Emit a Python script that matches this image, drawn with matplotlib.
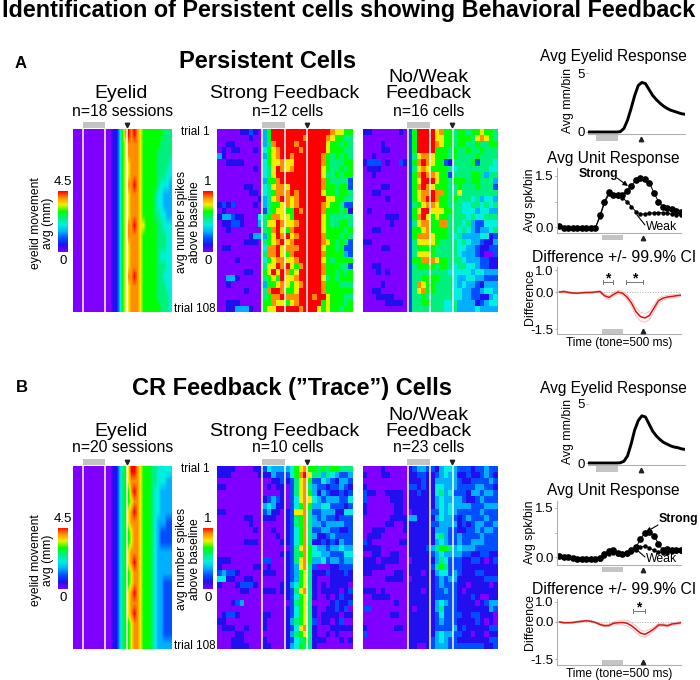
import numpy as np
import matplotlib
matplotlib.use('Agg')
import matplotlib.pyplot as plt
from matplotlib.colors import LinearSegmentedColormap
from matplotlib.lines import Line2D
from matplotlib.patches import Rectangle, FancyArrowPatch

plt.rcParams['font.family'] = ['Liberation Sans', 'DejaVu Sans']

# heatmap levels, 0 = purple ... 9 = red
eyelid_a = [
    "00000 00000 00011 36898 98766 66666 555",
    "00000 00000 00011 36788 88766 66665 555",
    "00000 00000 00011 36788 88766 66655 555",
    "00000 00000 00011 36778 88766 66655 554",
    "00000 00000 00011 36778 88766 66655 544",
    "00000 00000 00011 36788 98766 66654 443",
    "00000 00000 00011 36778 88766 66544 333",
    "00000 00000 00011 36778 88766 66544 333",
    "00000 00000 00011 36778 88766 66554 433",
    "00000 00000 00011 36788 98776 66655 444",
    "00000 00000 00011 36788 88766 66655 544",
    "00000 00000 00011 36778 88766 66655 544",
    "00000 00000 00011 36778 88766 66654 444",
    "00000 00000 00011 36778 88766 66655 544",
    "00000 00000 00011 36788 98766 66655 444",
    "00000 00000 00011 36778 88766 66655 544",
    "00000 00000 00011 36778 88766 66655 554",
    "00000 00000 00011 36778 88766 66665 554",
]
eyelid_b = [
    "00000 00000 00011 35679 98766 65544 444",
    "00000 00000 00011 35678 88766 65544 433",
    "00000 00000 00011 35668 98766 65443 333",
    "00000 00000 00011 35667 88766 65443 333",
    "00000 00000 00011 35678 98766 65443 333",
    "00000 00000 00011 35678 88766 65433 322",
    "00000 00000 00011 35667 88766 65432 222",
    "00000 00000 00011 35667 88766 65432 222",
    "00000 00000 00011 35678 88766 65433 333",
    "00000 00000 00011 35678 98766 65433 333",
    "00000 00000 00011 35667 88766 65433 333",
    "00000 00000 00011 35667 88766 65433 222",
    "00000 00000 00011 35678 98766 65433 222",
    "00000 00000 00011 35678 88766 65433 222",
    "00000 00000 00011 35678 98766 65433 222",
    "00000 00000 00011 35667 88766 65433 222",
    "00000 00000 00011 35667 88766 65433 222",
    "00000 00000 00011 35667 88766 65433 333",
]
strong_a = [
    "0000011210 3699999999 9999987766",
    "0000000100 3699999998 9999876655",
    "0011000000 3589999899 9999766565",
    "0101100010 4678999989 9999766655",
    "3100000000 3678998999 9998656565",
    "0011110000 4677877999 9998655566",
    "0000000010 4579878999 9997655656",
    "0000000000 4579999999 9997556566",
    "0000000000 3668999999 9998655552",
    "0000001100 4578879999 9998665662",
    "0000000110 4568889899 9997665665",
    "0000000001 3578987899 9999776655",
    "1212000010 3566787899 9998766522",
    "0100000000 2567766989 9998666561",
    "1332110004 5688776999 9997655555",
    "0112210003 5779877899 9997655665",
    "0010000000 5689768999 9997666656",
    "0000000133 3679897899 9998666565",
    "0000001110 5678978999 9998765652",
    "0110000000 4889788899 9997665622",
    "0000000000 5889768999 9998666632",
    "0000100000 4678877899 9997656666",
    "0000000000 5779897689 9998666552",
    "0000001100 6797986799 9998665656",
    "0033100000 5676977899 9997565666",
    "0010000000 3667876789 9998666555",
    "0000001000 5899866799 9998666666",
    "0000000000 5688988899 9899766655",
    "0011100000 6687767899 9996766656",
    "0011333100 6779999989 9976766566",
]
weak_a = [
    "1100000010 2699997866 5665667665",
    "0000000000 2699997766 5666578765",
    "0000100000 2699998766 5665565566",
    "0000110000 2699996665 6556556555",
    "0010000000 2578876665 6555565555",
    "1222010021 2689876621 5555625554",
    "0111000000 2578766665 4555555544",
    "0010000000 2689887662 5555665355",
    "0000000000 2679997665 6665665553",
    "0000110000 2689876665 5655565552",
    "0011000000 2678898865 5755555555",
    "0000010000 2678998665 6555453443",
    "0000000000 2567887665 5544554545",
    "0100000000 2679977766 5544434433",
    "0000011100 2689767665 5554544555",
    "0000001000 2578866885 5545322444",
    "0011000000 2667866665 5454323345",
    "0000000000 2688876665 4533334412",
    "1100000000 2577776555 5454332113",
    "0000110000 2566665555 5443321122",
    "0000000000 2577765555 5433321002",
    "0000000000 2668887665 5543332211",
    "0011000000 2566665665 4554432211",
    "0001010000 2555555554 4444344333",
    "0000000000 2556666555 4334433222",
    "0000100000 2587665555 4343321333",
    "0011000000 2578665555 4433223443",
    "0001111000 2556555555 4433221134",
    "0000011110 2556655544 5333312344",
    "0000000000 2555555544 5333343333",
]
strong_b = [
    "1111000011 2433334678 6656566555",
    "1110000001 1132224689 7553543223",
    "0000000000 0011212578 6224321332",
    "1100000000 0101102578 5322122321",
    "0000000000 0000102578 6313211212",
    "0000000000 1232102478 7432333224",
    "0000000000 3431102468 6334422212",
    "1100000000 2311012778 5223331144",
    "0000001100 1110012568 5323221222",
    "0000000100 0000012568 5332333322",
    "0000000010 0010012468 5223322112",
    "0000000000 0001012468 5311232222",
    "0000001110 0000112468 5112121322",
    "0000000000 0000002578 6433233433",
    "0000000000 0000112568 6443322244",
    "1110000000 2200012578 6334233233",
    "1000000011 0100012378 5200011222",
    "2322100000 1110012367 5111211121",
    "4411001100 0000012367 5100011111",
    "1000122210 0000113467 5101011110",
    "0000011000 1110112578 5101111012",
    "0000000000 0000012467 5100101211",
    "0001230000 0000002567 5000012112",
    "0000000000 0000012467 5100112120",
    "0122100000 1100012467 5101111011",
    "1100000000 1000013567 5201101200",
    "0111001000 1000012478 5100011111",
    "0000110000 0000013567 5100101000",
    "0001110000 1000012456 5111000101",
    "0001111000 1100013465 5100000000",
]
weak_b = [
    "0000100000 1233221344 3222122322",
    "1000110000 1122112343 3112112321",
    "0000000000 1112113333 3211222232",
    "1000000000 2212114433 3222233221",
    "2110011110 1121114534 2221332332",
    "2000001110 1111113433 3321123222",
    "1000000110 1111113434 3333222333",
    "1000000110 0111122434 3222223222",
    "0000001111 3311113433 2123222322",
    "0000011001 1111122333 3121233223",
    "0011100001 1111113332 2112232332",
    "0111000000 1111114532 2322223222",
    "2100000011 1111113432 2322333222",
    "1111000000 1111235665 3433322222",
    "0011001100 1111123433 3322112211",
    "1110111100 0111113542 2211221012",
    "1111100000 1111125652 2211111111",
    "1100000110 1110113442 3211122111",
    "0000011110 0111112323 3111111222",
    "0000000000 1111112322 2110111101",
    "1110100000 1110112232 2101111111",
    "0011110000 1111112222 2111210011",
    "0000000100 1111113432 2111101233",
    "2200000000 1011113522 2111111132",
    "0000001100 1111112422 2211221110",
    "0000000000 1111112322 2111121010",
    "1000000110 1111112222 3121111122",
    "2000000000 1111113433 2211011011",
    "0000000000 1111123432 2111111122",
    "0000000000 1100123332 2222222112",
]

# right hand line panels
lid_a = [0, 0, 0, 0, 0, 0, 0, 0, 0, .03, .3, 1.0, 2.0, 3.1, 3.95, 4.2, 4.1, 3.6, 3.1, 2.75,
         2.45, 2.2, 2.0, 1.85, 1.75, 1.65, 1.55, 1.5]
lid_b = [0, 0, 0, 0, 0, 0, 0, 0, 0, .02, .15, .6, 1.6, 2.8, 3.6, 4.0, 3.9, 3.3, 2.7, 2.3,
         2.0, 1.75, 1.6, 1.45, 1.35, 1.3, 1.2, 1.15]
unit_strong_a = [.02, -.02, -.03, -.03, -.03, -.03, -.04, -.04, -.02, .35, .75, 1.03, .95, .93,
                 .95, 1.07, 1.22, 1.38, 1.43, 1.42, 1.3, 1.0, .75, .6, .55, .52, .48, .45]
unit_weak_a = [.02, -.02, -.03, -.03, -.03, -.03, -.04, -.04, -.02, .3, .7, .97, .95, .9,
               .85, .75, .6, .45, .38, .38, .40, .42, .42, .42, .40, .38, .36, .34]
unit_strong_b = [.02, .01, 0, -.03, -.05, -.07, -.07, -.07, -.07, -.04, .08, .18, .22, .13,
                 .1, .12, .2, .3, .55, .75, .78, .65, .4, .2, .25, .2, .2, .2]
unit_weak_b = [.02, .01, 0, -.03, -.05, -.07, -.07, -.07, -.07, -.05, .02, .1, .12, .1,
               .08, .1, .15, .22, .3, .33, .28, .2, .15, .12, .12, .15, .18, .18]
diff_a = [0, .02, -.02, -.04, -.05, -.03, -.02, -.02, 0, .02, -.15, -.22, -.1, 0,
          -.05, -.2, -.45, -.8, -1.0, -1.05, -.95, -.65, -.35, -.25, -.2, -.18, -.15, -.13]
diff_a_hi = [.03, .05, .01, -.01, -.02, 0, .01, .01, .03, .05, -.08, -.14, -.02, .07,
             .03, -.1, -.3, -.62, -.82, -.87, -.78, -.5, -.25, -.17, -.13, -.11, -.09, -.07]
diff_a_lo = [-.03, -.01, -.05, -.07, -.08, -.06, -.05, -.05, -.03, -.01, -.22, -.3, -.18, -.07,
             -.13, -.3, -.6, -.98, -1.18, -1.23, -1.12, -.8, -.45, -.33, -.27, -.25, -.21, -.19]
diff_b = [0, -.03, -.03, -.02, .01, .03, .05, .03, -.02, -.1, -.15, -.14, -.05, -.03,
          -.02, -.05, -.15, -.3, -.45, -.5, -.4, -.28, -.12, -.12, -.15, -.08, -.06, -.03]
diff_b_hi = [.03, 0, 0, .01, .04, .06, .08, .06, .01, -.06, -.1, -.09, 0, .05,
             .08, .08, -.02, -.15, -.32, -.38, -.3, -.2, -.06, -.06, -.1, -.03, -.01, .02]
diff_b_lo = [-.03, -.06, -.06, -.05, -.02, 0, .02, 0, -.05, -.14, -.2, -.19, -.1, -.1,
             -.12, -.16, -.27, -.43, -.57, -.62, -.5, -.36, -.18, -.18, -.2, -.13, -.11, -.08]

levels = ['#8000ff', '#2010f0', '#0050ff', '#00b0ff', '#00f0e0',
          '#00f080', '#00ff00', '#f0f000', '#ff9000', '#ff0000']
rainbow = LinearSegmentedColormap.from_list('rainbow9', levels)

W, H = 700, 680
fig = plt.figure(figsize=(W / 100, H / 100), dpi=100)


def ax_px(x0, y0, x1, y1):
    # axes from pixel box, y counted from the top like the picture
    return fig.add_axes([x0 / W, 1 - y1 / H, (x1 - x0) / W, (y1 - y0) / H])


def txt(x, y, s, size=10, **kw):
    kw.setdefault('ha', 'center')
    fig.text(x / W, 1 - y / H, s, fontsize=size, va='center', **kw)


def grey_bar(x0, x1, y0, y1):
    fig.add_artist(Rectangle((x0 / W, 1 - y1 / H), (x1 - x0) / W, (y1 - y0) / H,
                             transform=fig.transFigure, color='#c4c4c4', lw=0))


def tick_mark(x, y, marker='v'):
    fig.add_artist(Line2D([x / W], [1 - y / H], marker=marker, ms=3.2, color='#222222',
                          lw=0, transform=fig.transFigure))


def heat(rows, box, lines, interp='nearest'):
    arr = np.array([[int(c) for c in r.replace(' ', '')] for r in rows]) / 9
    ax = ax_px(*box)
    ax.imshow(arr, cmap=rainbow, vmin=0, vmax=1, aspect='auto', interpolation=interp,
              extent=[box[0], box[2], box[3], box[1]])
    for x in lines:
        ax.axvline(x, color='white', lw=1.1)
    ax.axis('off')


def colorbar(x0, y0):
    ax = ax_px(x0, y0, x0 + 10, y0 + 61)
    ax.imshow(np.linspace(1, 0, 128)[:, None], cmap=rainbow, aspect='auto')
    ax.axis('off')


def style(ax, left=True):
    for s in ['top', 'right']:
        ax.spines[s].set_visible(False)
    ax.spines['bottom'].set_color('#b0b0b0')
    ax.spines['left'].set_color('#b0b0b0')
    ax.spines['left'].set_visible(left)
    ax.set_xticks([])
    ax.tick_params(axis='y', labelsize=9.5, length=1.5, width=.6, color='#999999', pad=1)
    ax.patch.set_alpha(0)


def section(y0, rows, names, p):
    y1 = y0 + 183
    heat(rows[0], (73, y0, 172, y1), [83, 105, 127], 'bilinear')
    heat(rows[1], (217, y0, 353, y1), [262, 285, 307])
    heat(rows[2], (363, y0, 498, y1), [408, 430, 453])
    for a, b in [(83, 105), (262, 285), (407, 430)]:
        grey_bar(a, b, y0 - 7, y0 - 1)
    for x in [127, 307, 452]:
        tick_mark(x, y0 - 4)

    txt(121, y0 - 35, 'Eyelid', 14)
    txt(123, y0 - 18, names[0], 11.3)
    txt(285, y0 - 35, 'Strong Feedback', 14)
    txt(288, y0 - 18, names[1], 11.3)
    txt(428, y0 - 51, 'No/Weak', 14)
    txt(428, y0 - 35, 'Feedback', 14)
    txt(429, y0 - 18, names[2], 11.3)

    colorbar(58, y0 + 62)
    colorbar(203, y0 + 62)
    txt(63, y0 + 53, '4.5', 9.5)
    txt(63, y0 + 132, '0', 9.5)
    txt(208, y0 + 53, '1', 9.5)
    txt(208, y0 + 132, '0', 9.5)
    txt(35.5, y0 + 94, 'eyelid movement', 8.7, rotation=90)
    txt(48, y0 + 94, 'avg (mm)', 8.7, rotation=90)
    txt(182.5, y0 + 93, 'avg number spikes', 8.7, rotation=90)
    txt(195, y0 + 93, 'above baseline', 8.7, rotation=90)
    txt(210, y0 + 3, 'trial 1', 8.4, ha='right')
    txt(216, y0 + 180, 'trial 108', 8.4, ha='right')

    # eyelid curve
    ax = ax_px(588, p['lid'][0] - 3, 685, p['lid'][1] + 2)
    ax.plot(p['lid_y'], color='black', lw=2.1)
    ax.set_xlim(0, 27)
    ax.set_ylim(-2 / 11.8, 5 + 3 / 11.8)
    ax.set_yticks([0, 5], ['0', '5'])
    style(ax, left=False)
    grey_bar(596, 618, p['lid'][1] + 3, p['lid'][1] + 9)
    tick_mark(641, p['lid'][1] + 7, '^')
    txt(613, p['lid'][0] - 16, 'Avg Eyelid Response', 11.2)
    txt(568, (p['lid'][0] + p['lid'][1]) / 2 - 2, 'Avg mm/bin', 8.8, rotation=90)

    # unit response
    top, zero, bot = p['unit']
    ax = ax_px(557, top, 681, bot)
    xs = np.arange(len(p['strong']))
    ax.plot(xs, p['weak'], color='black', lw=.7, marker='o', ms=2.2)
    ax.plot(xs, p['strong'], color='black', lw=.7, marker='o', ms=3.8)
    per = (zero - p['unit15']) / 1.5
    ax.set_xlim(-.55, 27)
    ax.set_ylim(-(bot - zero) / per, (zero - top) / per)
    ax.set_yticks([0, 1.5], ['0.0', '1.5'])
    ax.set_yticks([.75], minor=True)
    style(ax)
    ax.tick_params(axis='y', which='minor', length=1.5, width=.6, color='#999999')
    grey_bar(602, 623, bot + 2, bot + 7)
    tick_mark(643, bot + 5, '^')
    txt(613, p['unit_title'], 'Avg Unit Response', 11.2)
    txt(530, p['unit_label'], 'Avg spk/bin', 8.8, rotation=90)

    # difference
    y10, zero, y15, bot = p['diff']
    ax = ax_px(557, y10 - 3, 681, bot)
    per = (y15 - zero) / 1.5
    ax.fill_between(xs, p['lo'], p['hi'], color='#ff0000', alpha=.05, lw=0)
    ax.plot(xs, p['hi'], color='#f5b0b0', lw=.5)
    ax.plot(xs, p['lo'], color='#f5b0b0', lw=.5)
    ax.axhline(0, color='#aaaaaa', lw=.7, ls=':')
    ax.plot(xs, p['d'], color='#d81414', lw=1.1)
    ax.set_xlim(-.55, 27)
    ax.set_ylim(-(bot - zero) / per, (zero - y10 + 3) / per)
    ax.set_yticks([-1.5, 0, (zero - y10) / per], ['-1.5', '0.0', '1.0'])
    style(ax)
    for a, b in p['brackets']:
        br = p['br']
        ax.plot([a, b], [br, br], color='#777777', lw=.7)
        ax.plot([a, a], [br - .08, br + .08], color='#777777', lw=.7)
        ax.plot([b, b], [br - .08, br + .08], color='#777777', lw=.7)
        ax.text((a + b) / 2, br + .12, '*', ha='center', va='center', fontsize=10,
                fontweight='bold')
    grey_bar(602, 623, bot - 5, bot)
    tick_mark(643, bot - 3, '^')
    txt(614, y10 - 13, 'Difference +/- 99.9% CI', 11.3)
    txt(530, p['diff_label'], 'Difference', 8.8, rotation=90)
    txt(619, bot + 9, 'Time (tone=500 ms)', 8.6)


txt(349, 10, 'Identification of Persistent cells showing Behavioral Feedback', 16.8, fontweight='bold')
txt(21, 63, 'A', 12, fontweight='bold')
txt(268, 62, 'Persistent Cells', 17, fontweight='bold')
txt(22, 388, 'B', 12, fontweight='bold')
txt(292, 388, 'CR Feedback (\u201dTrace\u201d) Cells', 17, fontweight='bold')

section(129, [eyelid_a, strong_a, weak_a], ['n=18 sessions', 'n=12 cells', 'n=16 cells'], {
    'lid': (73, 132), 'lid_y': lid_a,
    'unit': (168, 227, 233), 'unit15': 176, 'unit_title': 159, 'unit_label': 200,
    'strong': unit_strong_a, 'weak': unit_weak_a,
    'diff': (270, 292, 329, 334), 'd': diff_a, 'hi': diff_a_hi, 'lo': diff_a_lo,
    'brackets': [(9.7, 11.9), (14.8, 18.6)], 'br': .41, 'diff_label': 297,
})
section(466, [eyelid_b, strong_b, weak_b], ['n=20 sessions', 'n=10 cells', 'n=23 cells'], {
    'lid': (404, 463), 'lid_y': lid_b,
    'unit': (501, 557, 565), 'unit15': 508, 'unit_title': 491, 'unit_label': 532,
    'strong': unit_strong_b, 'weak': unit_weak_b,
    'diff': (602, 622, 659, 665), 'd': diff_b, 'hi': diff_b_hi, 'lo': diff_b_lo,
    'brackets': [(16.3, 19)], 'br': .45, 'diff_label': 622,
})


def arrow(x0, y0, x1, y1, head=True):
    fig.add_artist(FancyArrowPatch(
        (x0 / W, 1 - y0 / H), (x1 / W, 1 - y1 / H), transform=fig.transFigure,
        arrowstyle='-|>' if head else '-', mutation_scale=7, lw=.8, color='black',
        shrinkA=0, shrinkB=0))


txt(598, 174, 'Strong', 8.8, fontweight='bold')
arrow(617, 178, 628, 186)
txt(662, 227, 'Weak', 8.8)
arrow(645, 225, 637, 215, head=False)
txt(678, 519, 'Strong', 8.8, fontweight='bold')
arrow(658, 525, 646, 532)
txt(662, 559, 'Weak', 8.8)
arrow(645, 557, 637, 550, head=False)

fig.savefig('out.png', dpi=100)
